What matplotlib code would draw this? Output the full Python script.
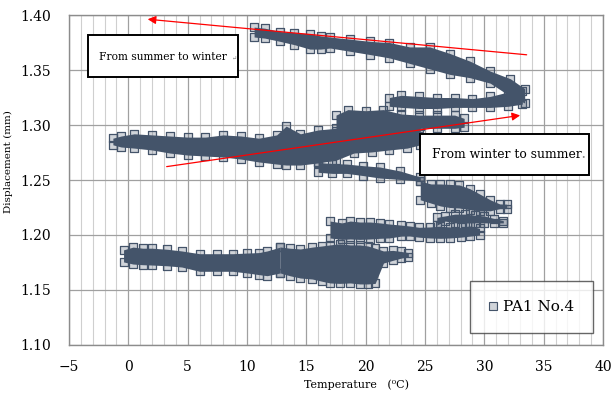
import numpy as np
import matplotlib.pyplot as plt
from matplotlib.patches import Rectangle
from matplotlib.lines import Line2D
from matplotlib.ticker import MultipleLocator

plt.rcParams["font.family"] = ["DejaVu Serif"]

# PA1 No.4 - read off the picture as bands (temperature, upper edge, lower edge)
# top band, summer -> winter
A_t   = [10.6, 11.5, 12.8, 14.0, 15.3, 16.2, 17.0, 18.7, 20.4, 22.0, 23.7, 25.4, 27.1, 28.8, 30.5, 32.2, 33.4]
A_top = [1.389, 1.388, 1.385, 1.384, 1.383, 1.381, 1.380, 1.378, 1.376, 1.375, 1.371, 1.371, 1.365, 1.358, 1.349, 1.342, 1.333]
A_bot = [1.380, 1.379, 1.376, 1.373, 1.369, 1.369, 1.370, 1.367, 1.364, 1.361, 1.356, 1.351, 1.346, 1.343, 1.338, 1.326, 1.320]
# return of the loop
B_t   = [22.0, 23.0, 24.5, 26.0, 27.5, 29.0, 30.5, 32.0, 33.2]
B_top = [1.325, 1.327, 1.326, 1.325, 1.325, 1.324, 1.326, 1.330, 1.331]
B_bot = [1.317, 1.316, 1.315, 1.315, 1.316, 1.316, 1.316, 1.317, 1.319]
# upper middle band
C_t   = [17.5, 18.5, 20.0, 21.5, 23.0, 24.5, 26.0, 27.5, 28.3]
C_top = [1.309, 1.314, 1.313, 1.314, 1.310, 1.309, 1.309, 1.309, 1.306]
C_bot = [1.295, 1.293, 1.293, 1.294, 1.296, 1.297, 1.297, 1.297, 1.298]
# main band, winter -> summer
D_t   = [-1.3, -0.6, 0.5, 2.0, 3.5, 5.0, 6.5, 8.0, 9.5, 11.0, 12.5, 13.3, 14.5, 16.0, 17.5, 19.0, 20.5, 22.0, 23.5, 24.6]
D_top = [1.288, 1.290, 1.292, 1.291, 1.290, 1.289, 1.289, 1.291, 1.290, 1.288, 1.291, 1.299, 1.292, 1.2955, 1.297, 1.297, 1.298, 1.299, 1.300, 1.299]
D_bot = [1.282, 1.280, 1.279, 1.2773, 1.2745, 1.2727, 1.2718, 1.2709, 1.269, 1.2664, 1.2645, 1.2636, 1.2636, 1.2655, 1.268, 1.2745, 1.2755, 1.2773, 1.279, 1.282]
# descending band near 1.26
E_t   = [16.0, 17.2, 18.4, 19.8, 21.2, 22.9, 24.6]
E_top = [1.266, 1.265, 1.2645, 1.263, 1.2618, 1.2582, 1.2527]
E_bot = [1.257, 1.256, 1.2560, 1.254, 1.2518, 1.2505, 1.249]
# cluster 1.22-1.25
F_t   = [24.6, 25.5, 26.3, 27.1, 27.9, 28.8, 29.6, 30.5, 31.3, 31.9]
F_top = [1.249, 1.2464, 1.2464, 1.246, 1.2455, 1.242, 1.2373, 1.232, 1.2282, 1.228]
F_bot = [1.232, 1.229, 1.2264, 1.225, 1.2245, 1.223, 1.2218, 1.222, 1.2240, 1.224]
F2_t   = [26.0, 26.7, 27.5, 28.4, 29.2, 30.0, 30.8, 31.6]
F2_top = [1.216, 1.2173, 1.219, 1.219, 1.218, 1.2173, 1.215, 1.213]
F2_bot = [1.209, 1.2127, 1.211, 1.211, 1.211, 1.211, 1.211, 1.211]
# band near 1.20
G_t   = [17.0, 18.0, 18.7, 19.5, 20.4, 21.2, 22.0, 23.0, 23.7, 24.5, 25.4, 26.3, 27.1, 28.0, 28.8, 29.6]
G_top = [1.2127, 1.211, 1.2127, 1.2118, 1.2118, 1.211, 1.210, 1.209, 1.2082, 1.207, 1.2073, 1.208, 1.2073, 1.207, 1.2082, 1.206]
G_bot = [1.1973, 1.196, 1.1964, 1.196, 1.1964, 1.197, 1.1973, 1.199, 1.1991, 1.198, 1.1973, 1.197, 1.1973, 1.198, 1.199, 1.200]
# link down to the bottom band
H_t   = [12.8, 13.6, 14.5, 15.5, 16.3, 17.0, 17.8, 18.7, 19.5, 20.2, 20.8, 21.5, 22.3, 23.0, 23.6]
H_top = [1.1891, 1.188, 1.1873, 1.189, 1.190, 1.191, 1.192, 1.191, 1.191, 1.190, 1.188, 1.1855, 1.186, 1.185, 1.184]
H_bot = [1.1655, 1.163, 1.1609, 1.160, 1.158, 1.1564, 1.156, 1.1564, 1.1555, 1.1555, 1.156, 1.1745, 1.177, 1.179, 1.180]
# bottom band
I_t   = [-0.4, 0.4, 1.2, 2.0, 3.3, 4.5, 6.0, 7.5, 8.8, 10.0, 11.0, 11.7, 12.8]
I_top = [1.1865, 1.189, 1.188, 1.188, 1.187, 1.1855, 1.183, 1.183, 1.183, 1.1836, 1.184, 1.1855, 1.189]
I_bot = [1.1755, 1.1736, 1.173, 1.1727, 1.172, 1.1709, 1.167, 1.167, 1.167, 1.1655, 1.164, 1.163, 1.1655]

bands = [(A_t, A_top, A_bot), (B_t, B_top, B_bot), (C_t, C_top, C_bot),
         (D_t, D_top, D_bot), (E_t, E_top, E_bot), (F_t, F_top, F_bot),
         (F2_t, F2_top, F2_bot), (G_t, G_top, G_bot), (H_t, H_top, H_bot),
         (I_t, I_top, I_bot)]

col = "#44546A"
face = (0.27, 0.33, 0.42, 0.25)

fig = plt.figure(figsize=(6.12, 3.96), dpi=100)
ax = fig.add_axes([0.1127, 0.1288, 0.8726, 0.8333])

for t, top, bot in bands:
    ax.fill_between(t, bot, top, color=col, lw=0, zorder=2)
    ax.scatter(t, top, marker="s", s=34, facecolors=face, edgecolors=col, linewidths=0.9, zorder=3)
    ax.scatter(t, bot, marker="s", s=34, facecolors=face, edgecolors=col, linewidths=0.9, zorder=3)

ax.set_xlim(-5, 40)
ax.set_ylim(1.10, 1.40)
ax.xaxis.set_major_locator(MultipleLocator(5))
ax.xaxis.set_minor_locator(MultipleLocator(1))
ax.yaxis.set_major_locator(MultipleLocator(0.05))
ax.yaxis.set_major_formatter(plt.FormatStrFormatter("%.2f"))
ax.grid(which="minor", axis="x", color="#CFCFCF", lw=0.8, zorder=0)
ax.grid(which="major", axis="x", color="#A0A0A0", lw=0.9, zorder=0)
ax.grid(which="major", axis="y", color="#A0A0A0", lw=0.9, zorder=0)
ax.set_axisbelow(True)
ax.tick_params(which="both", length=0, labelsize=10)
ax.tick_params(axis="y", pad=13)
ax.tick_params(axis="x", pad=11)
for s in ax.spines.values():
    s.set_color("#8C8C8C")
    s.set_linewidth(1)

ax.set_ylabel("Displacement (mm)", fontsize=7.5, labelpad=6)
ax.yaxis.set_label_coords(-0.105, 0.557)
ax.set_xlabel("Temperature   (⁰C)", fontsize=8, labelpad=4)
ax.xaxis.set_label_coords(0.539, -0.105)

# red arrows
ax.annotate("", xy=(1.4, 1.3964), xytext=(33.8, 1.3636),
            arrowprops=dict(arrowstyle="-|>", color="red", lw=0.9, mutation_scale=12), zorder=5)
ax.annotate("", xy=(33.25, 1.3091), xytext=(3.0, 1.2618),
            arrowprops=dict(arrowstyle="-|>", color="red", lw=0.9, mutation_scale=12), zorder=5)

# text boxes
ax.add_patch(Rectangle((0.0356, 0.812), 0.281, 0.127, transform=ax.transAxes,
                       facecolor="white", edgecolor="black", lw=1.4, zorder=6))
ax.text(0.056, 0.873, "From summer to winter", transform=ax.transAxes, fontsize=7.7,
        va="center", ha="left", zorder=7)
ax.text(0.303, 0.871, "↵", transform=ax.transAxes, fontsize=4.5, color="gray",
        va="center", ha="left", zorder=7)
ax.add_patch(Rectangle((0.657, 0.515), 0.317, 0.124, transform=ax.transAxes,
                       facecolor="white", edgecolor="black", lw=1.4, zorder=6))
ax.text(0.680, 0.576, "From winter to summer", transform=ax.transAxes, fontsize=8.9,
        va="center", ha="left", zorder=7)
ax.text(0.960, 0.573, "∙", transform=ax.transAxes, fontsize=5, color="gray",
        va="center", ha="left", zorder=7)

handle = Line2D([], [], ls="none", marker="s", ms=5.5, mfc=face, mec=col, mew=0.8)
leg = ax.legend([handle], ["PA1 No.4"], loc="lower right", bbox_to_anchor=(0.981, 0.036),
                fontsize=11, frameon=True, fancybox=False, borderpad=1.25,
                handlelength=0.6, handletextpad=0.3, borderaxespad=0)
leg.get_frame().set_edgecolor("#404040")
leg.get_frame().set_linewidth(1)
leg.set_zorder(8)

plt.savefig("out.png", dpi=100)
